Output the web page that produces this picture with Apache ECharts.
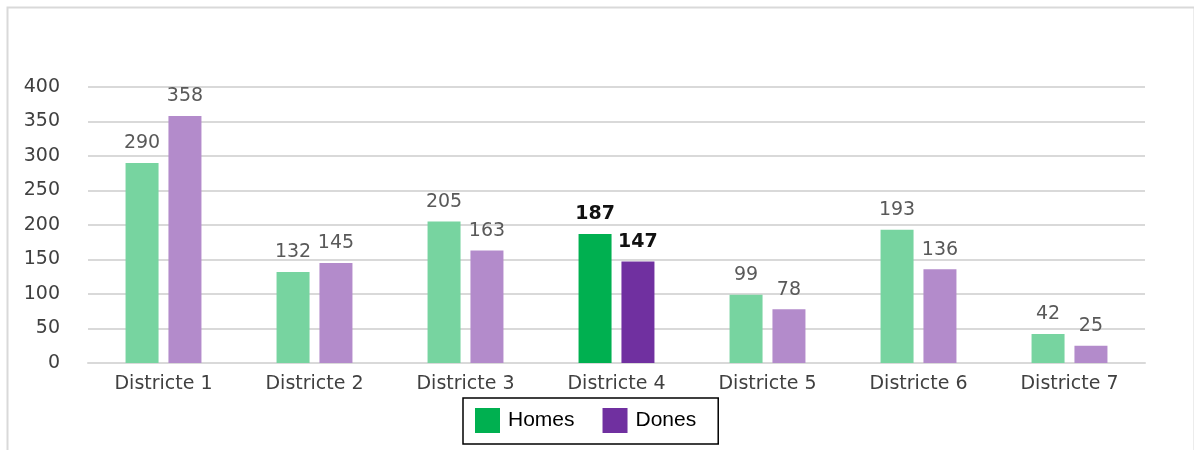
<!DOCTYPE html>
<html>
<head>
<meta charset="utf-8">
<script src="https://cdn.jsdelivr.net/npm/echarts@6/dist/echarts.min.js"></script>
<style>
html,body{margin:0;padding:0;background:#fff;}
#chart{width:1194px;height:450px;}
</style>
</head>
<body>
<div id="chart"></div>
<script>
const categories = ['Districte 1','Districte 2','Districte 3','Districte 4','Districte 5','Districte 6','Districte 7'];
const homes = [290, 132, 205, 187, 99, 193, 42];
const dones = [358, 145, 163, 147, 78, 136, 25];
const highlightIndex = 3;

const colors = {
  homesDark: '#00B050', homesLight: '#77D4A0',
  donesDark: '#7030A0', donesLight: '#B38BCB'
};

function build(values, dark, light) {
  return values.map((v, i) => {
    const hi = i === highlightIndex;
    return {
      value: v,
      itemStyle: { color: hi ? dark : light },
      label: hi ? { color: '#111', fontWeight: 'bold' } : { color: '#595959', fontWeight: 'normal' }
    };
  });
}

const chart = echarts.init(document.getElementById('chart'));
const labelBase = {
  show: true, position: 'top', distance: 10,
  fontFamily: 'DejaVu Sans', fontSize: 19
};
chart.setOption({
  animation: false,
  graphic: [{
    type: 'rect', left: 5, top: 5, shape: { width: 1187, height: 460 },
    style: { fill: 'none', stroke: '#d9d9d9', lineWidth: 2 }, silent: true
  }],
  grid: { left: 88, right: 49, top: 87, bottom: 87 },
  legend: {
    left: 463, top: 398,
    icon: 'rect',
    itemWidth: 25, itemHeight: 25, itemGap: 28,
    padding: [10, 22, 11, 12],
    borderColor: '#000', borderWidth: 1.5,
    textStyle: { fontFamily: 'Liberation Sans', fontSize: 21, color: '#000', padding: [0, 0, 0, 3] },
    data: ['Homes', 'Dones']
  },
  xAxis: {
    type: 'category', data: categories,
    axisLine: { lineStyle: { color: '#d9d9d9', width: 2 } },
    axisTick: { show: false },
    axisLabel: { fontFamily: 'DejaVu Sans', fontSize: 19, color: '#404040', margin: 12 }
  },
  yAxis: {
    type: 'value', min: 0, max: 400, interval: 50,
    axisLine: { show: false }, axisTick: { show: false },
    splitLine: { lineStyle: { color: '#d9d9d9', width: 2 } },
    axisLabel: { fontFamily: 'DejaVu Sans', fontSize: 19, color: '#404040', margin: 28 }
  },
  series: [
    { name: 'Homes', type: 'bar', barWidth: 33, barGap: '30%',
      itemStyle: { color: colors.homesDark },
      label: labelBase,
      data: build(homes, colors.homesDark, colors.homesLight) },
    { name: 'Dones', type: 'bar', barWidth: 33, barGap: '30%',
      itemStyle: { color: colors.donesDark },
      label: labelBase,
      data: build(dones, colors.donesDark, colors.donesLight) }
  ]
});
</script>
</body>
</html>
